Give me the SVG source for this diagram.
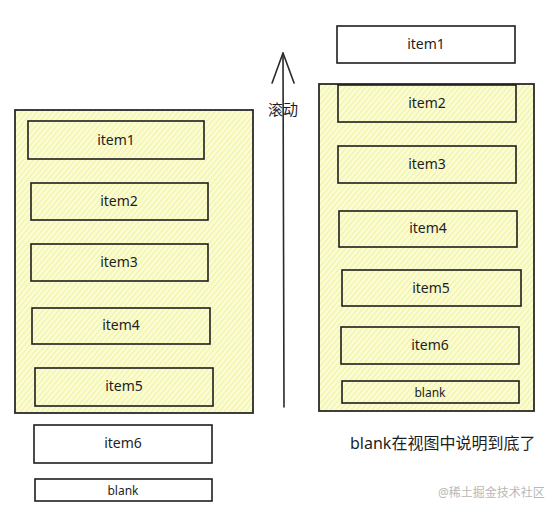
<svg xmlns="http://www.w3.org/2000/svg" width="560" height="516" viewBox="0 0 560 516">
<style>
.wbox{fill:#ffffff;stroke:#1e1e1e;stroke-width:1.6}
.hbox{fill:url(#hatch);stroke:#1e1e1e;stroke-width:1.6}
.cont{fill:url(#hatch);stroke:#2a2a2a;stroke-width:1.8}
.t{font-family:"Noto Sans","DejaVu Sans",sans-serif;font-size:14px;fill:#1e1e1e;text-anchor:middle}
.ts{font-family:"Noto Sans","DejaVu Sans",sans-serif;font-size:12px;fill:#1e1e1e;text-anchor:middle}
.cap{font-family:"Noto Sans","Noto Sans CJK SC",sans-serif;font-size:16px;fill:#1e1e1e}
.wm{font-family:"Noto Sans","Noto Sans CJK SC",sans-serif;font-size:12px;fill:#b8b8b8}
.conn{fill:none;stroke:#2a2a2a;stroke-width:1.6;stroke-linecap:round}
</style>
<defs>
<pattern id="hatch" width="4" height="4" patternUnits="userSpaceOnUse" patternTransform="rotate(40)">
<rect width="4" height="4" fill="#fbfbd4"/>
<line x1="0" y1="0" x2="0" y2="4" stroke="#edf190" stroke-width="1.6"/>
</pattern>
<marker id="open" markerWidth="34" markerHeight="24" refX="32" refY="12" orient="auto" markerUnits="userSpaceOnUse" viewBox="0 0 34 24">
<path d="M2,1 L32,12 L2,23" fill="none" stroke="#2a2a2a" stroke-width="1.6" stroke-linecap="round" stroke-linejoin="round"/>
</marker>
</defs>
<rect width="560" height="516" fill="#ffffff"/>

<g id="left-viewport">
<rect class="cont" x="15" y="110" width="238" height="303"/>
</g>
<g id="left-item1"><rect class="hbox" x="28" y="121" width="176" height="38"/><text class="t" x="116" y="145">item1</text></g>
<g id="left-item2"><rect class="hbox" x="31" y="183" width="177" height="37"/><text class="t" x="119" y="206">item2</text></g>
<g id="left-item3"><rect class="hbox" x="31" y="244" width="177" height="37"/><text class="t" x="119" y="267">item3</text></g>
<g id="left-item4"><rect class="hbox" x="32" y="308" width="178" height="36"/><text class="t" x="121" y="330">item4</text></g>
<g id="left-item5"><rect class="hbox" x="35" y="368" width="178" height="38"/><text class="t" x="124" y="391">item5</text></g>
<g id="left-item6"><rect class="wbox" x="34" y="425" width="178" height="38"/><text class="t" x="123" y="448">item6</text></g>
<g id="left-blank"><rect class="wbox" x="35" y="479" width="177" height="22"/><text class="ts" x="123" y="495">blank</text></g>

<g id="connectors">
<line class="conn" x1="284" y1="407" x2="283" y2="53" marker-end="url(#open)"/>
<text class="cap" x="268" y="115" style="font-size:15px">滚动</text>
</g>

<g id="right-item1"><rect class="wbox" x="337" y="26" width="178" height="37"/><text class="t" x="426" y="49">item1</text></g>
<g id="right-viewport">
<rect class="cont" x="319" y="84" width="215" height="327"/>
</g>
<g id="right-item2"><rect class="hbox" x="338" y="85" width="178" height="37"/><text class="t" x="427" y="108">item2</text></g>
<g id="right-item3"><rect class="hbox" x="338" y="146" width="178" height="37"/><text class="t" x="427" y="169">item3</text></g>
<g id="right-item4"><rect class="hbox" x="339" y="211" width="178" height="36"/><text class="t" x="428" y="233">item4</text></g>
<g id="right-item5"><rect class="hbox" x="342" y="270" width="179" height="36"/><text class="t" x="431" y="293">item5</text></g>
<g id="right-item6"><rect class="hbox" x="341" y="327" width="178" height="37"/><text class="t" x="430" y="350">item6</text></g>
<g id="right-blank"><rect class="hbox" x="342" y="381" width="177" height="22"/><text class="ts" x="430" y="397">blank</text></g>

<text class="cap" x="350" y="449">blank在视图中说明到底了</text>
<text class="wm" x="438" y="497">@稀土掘金技术社区</text>
</svg>
